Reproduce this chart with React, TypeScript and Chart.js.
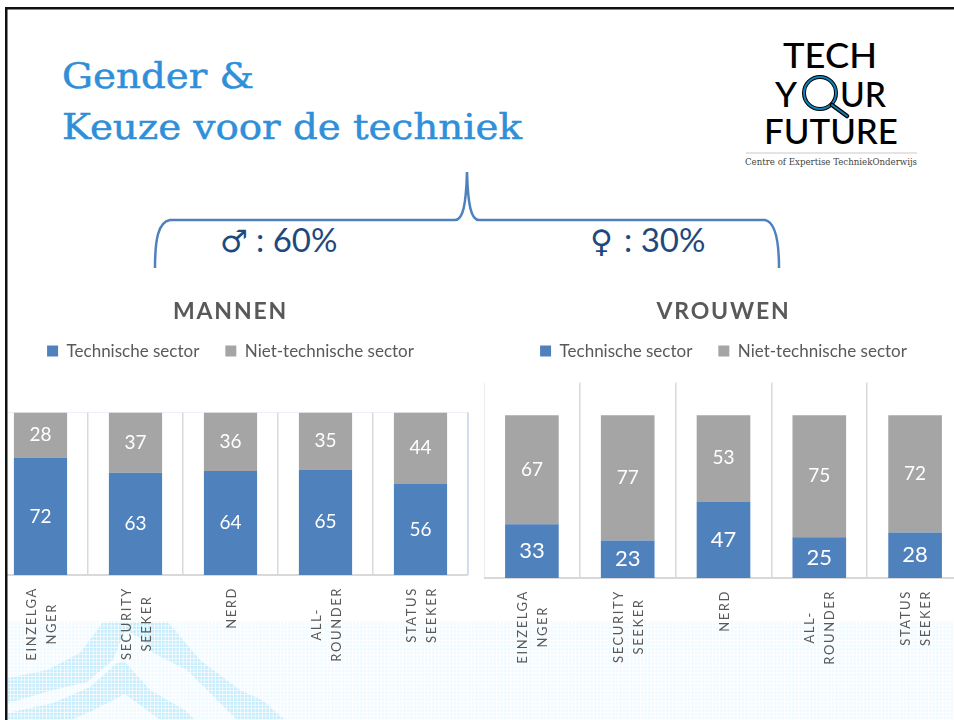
import React, { useEffect, useRef } from "react";
import { Chart, registerables } from "chart.js";

Chart.register(...registerables);

const categories = [
  ["EINZELGA", "NGER"],
  ["SECURITY", "SEEKER"],
  ["NERD"],
  ["ALL-", "ROUNDER"],
  ["STATUS", "SEEKER"],
];
const seriesNames = ["Technische sector", "Niet-technische sector"];
const mannenTech = [72, 63, 64, 65, 56];
const mannenNiet = [28, 37, 36, 35, 44];
const vrouwenTech = [33, 23, 47, 25, 28];
const vrouwenNiet = [67, 77, 53, 75, 72];

const BLUE = "#4F81BD";
const GREY = "#A5A5A5";
const TEXT = "#595959";
const LINE = "#D9D9D9";
const FONT = "Lato, 'Open Sans', sans-serif";

const overlayPlugin = {
  id: "overlay",
  beforeDraw(chart: any) {
    const block = chart.titleBlock;
    if (block && !block.__spaced) {
      const draw = block.draw;
      block.draw = function () {
        chart.ctx.save();
        chart.ctx.letterSpacing = "1.8px";
        draw.call(this);
        chart.ctx.restore();
      };
      block.__spaced = true;
    }
  },
  afterDatasetsDraw(chart: any, _a: any, opts: any) {
    const { ctx } = chart;
    ctx.save();
    ctx.fillStyle = "#FFFFFF";
    ctx.textAlign = "center";
    ctx.textBaseline = "middle";
    chart.data.datasets.forEach((ds: any, d: number) => {
      ctx.font = `${opts.valueSizes[d]}px ${FONT}`;
      chart.getDatasetMeta(d).data.forEach((bar: any, i: number) => {
        const p = bar.getCenterPoint();
        ctx.fillText(String(ds.data[i]), p.x, p.y);
      });
    });
    ctx.restore();
  },
  afterDraw(chart: any, _a: any, opts: any) {
    const { ctx } = chart;
    const scale = chart.scales.x;
    ctx.save();
    ctx.fillStyle = TEXT;
    ctx.font = `13px ${FONT}`;
    ctx.letterSpacing = "1.6px";
    ctx.textAlign = "center";
    ctx.textBaseline = "middle";
    chart.data.labels.forEach((lines: string[], i: number) => {
      const widest = Math.max(...lines.map((l) => ctx.measureText(l).width));
      ctx.save();
      ctx.translate(scale.getPixelForTick(i) + 1, chart.chartArea.bottom + opts.labelGap);
      ctx.rotate(-Math.PI / 2);
      lines.forEach((l, n) => {
        ctx.fillText(l, -widest / 2, (n - (lines.length - 1) / 2) * 20);
      });
      ctx.restore();
    });
    ctx.restore();
  },
};

type PanelProps = {
  title: string;
  tech: number[];
  niet: number[];
  yMax: number;
  left: number;
  top: number;
  width: number;
  height: number;
  plotGap: number;
  bottomPad: number;
  valueSizes: number[];
  labelGap: number;
};

function Panel(p: PanelProps) {
  const ref = useRef<HTMLCanvasElement>(null);
  useEffect(() => {
    const chart = new Chart(ref.current as HTMLCanvasElement, {
      type: "bar",
      data: {
        labels: categories as any,
        datasets: [
          { label: seriesNames[0], data: p.tech, backgroundColor: BLUE, xAxisID: "x", yAxisID: "y" },
          { label: seriesNames[1], data: p.niet, backgroundColor: GREY, xAxisID: "x", yAxisID: "y" },
        ],
      },
      options: {
        animation: false,
        responsive: false,
        maintainAspectRatio: false,
        layout: { padding: { top: 0, left: 0, right: 0, bottom: p.bottomPad } },
        datasets: { bar: { categoryPercentage: 1, barPercentage: 0.56 } },
        scales: {
          x: {
            stacked: true,
            grid: { color: LINE, lineWidth: 1.5, drawTicks: false },
            border: { color: LINE, width: 2 },
            ticks: { display: false },
            afterFit: (s: any) => {
              s.height = 0;
            },
          },
          gap: {
            type: "category",
            position: "top",
            labels: [""],
            grid: { display: false },
            border: { display: false },
            ticks: { display: false },
            afterFit: (s: any) => {
              s.height = p.plotGap;
            },
          },
          y: { stacked: true, display: false, min: 0, max: p.yMax },
        },
        plugins: {
          title: {
            display: true,
            text: p.title,
            color: TEXT,
            font: { family: FONT, size: 23, weight: "bold" },
            padding: { top: 7.5, bottom: -8.5 },
          },
          legend: {
            display: true,
            position: "top",
            labels: {
              color: TEXT,
              boxWidth: 11,
              boxHeight: 11,
              padding: 26,
              font: { family: FONT, size: 17 },
            },
          },
          tooltip: { enabled: false },
          overlay: { valueSizes: p.valueSizes, labelGap: p.labelGap },
        },
      } as any,
      plugins: [overlayPlugin as any],
    });
    return () => chart.destroy();
  }, []);
  return (
    <canvas
      ref={ref}
      width={p.width}
      height={p.height}
      style={{ position: "absolute", left: p.left, top: p.top, width: p.width, height: p.height }}
    />
  );
}

function Backdrop() {
  return (
    <svg width={954} height={720} style={{ position: "absolute", left: 0, top: 0 }}>
      <defs>
        <pattern id="pale" width={3.6} height={3.6} patternUnits="userSpaceOnUse">
          <rect width={2.7} height={2.7} fill="#F1FAFE" />
        </pattern>
        <pattern id="dots" width={3.6} height={3.6} patternUnits="userSpaceOnUse">
          <rect width={2.8} height={2.8} fill="#C6EDFC" />
        </pattern>
      </defs>
      <rect x={8} y={621} width={946} height={99} fill="url(#pale)" />
      <path
        d="M8,678 L47,670 L80,653 L103,622 L168,622 L200,660 L240,690 L262,700 L285,720 L237,720 L187,670 L153,653 L143,640 L125,630 L113,660 L87,682 L53,690 L8,703 Z"
        fill="url(#dots)"
      />
      <path d="M8,713 L53,703 L90,687 L117,663 L125,662 L150,690 L185,710 L195,720 L160,720 L125,694 L90,712 L70,720 L8,720 Z" fill="url(#dots)" />
      <path d="M8,412.5 H468 V575" fill="none" stroke="#EDF1F7" strokeWidth={1} />
      <path d="M468,412.5 V575" fill="none" stroke="#C9D7EB" strokeWidth={1.5} />
    </svg>
  );
}

function Frame() {
  return (
    <svg width={954} height={720} style={{ position: "absolute", left: 0, top: 0 }}>
      <rect x={0} y={0} width={5} height={720} fill="#fff" />
      <rect x={5} y={7} width={949} height={2.5} fill="#111" />
      <rect x={5} y={7} width={2.5} height={713} fill="#111" />
    </svg>
  );
}

function Header() {
  const blue = "#2F8FD8";
  const navy = "#1F497D";
  const slab = "'DejaVu Serif', serif";
  const logo = "Lato, 'Open Sans', sans-serif";
  return (
    <svg width={954} height={720} style={{ position: "absolute", left: 0, top: 0 }}>
      <text x={62} y={88} fill={blue} stroke={blue} strokeWidth={0.5} fontFamily={slab} fontSize={36} textLength={192} lengthAdjust="spacingAndGlyphs">
        Gender &amp;
      </text>
      <text x={62} y={139} fill={blue} stroke={blue} strokeWidth={0.5} fontFamily={slab} fontSize={36} textLength={460} lengthAdjust="spacingAndGlyphs">
        Keuze voor de techniek
      </text>

      <path
        d="M155,268 C155,240 158,222 170,220 L455,220 C463,220 466,205 467,172 C468,205 471,220 479,220 L765,220 C775,222 779,240 779,268"
        fill="none"
        stroke={BLUE}
        strokeWidth={2.5}
      />
      <text x={220} y={252} fill={navy} fontFamily="'DejaVu Sans', sans-serif" fontSize={31}>
        ♂
      </text>
      <text x={256} y={252} fill={navy} fontFamily={FONT} fontSize={33}>
        : 60%
      </text>
      <text x={590} y={252} fill={navy} fontFamily="'DejaVu Sans', sans-serif" fontSize={31}>
        ♀
      </text>
      <text x={624} y={252} fill={navy} fontFamily={FONT} fontSize={33}>
        : 30%
      </text>

      <text x={783} y={68} fill="#000" fontFamily={logo} fontWeight={500} fontSize={35} textLength={94} lengthAdjust="spacingAndGlyphs">
        TECH
      </text>
      <text x={775} y={107} fill="#000" fontFamily={logo} fontWeight={500} fontSize={35}>
        Y
      </text>
      <text x={840} y={107} fill="#000" fontFamily={logo} fontWeight={500} fontSize={35} textLength={46} lengthAdjust="spacingAndGlyphs">
        UR
      </text>
      <text x={764} y={144} fill="#000" fontFamily={logo} fontWeight={500} fontSize={35} textLength={134} lengthAdjust="spacingAndGlyphs">
        FUTURE
      </text>
      <circle cx={820} cy={93} r={16} fill="#fff" stroke="#000" strokeWidth={4} />
      <circle cx={820} cy={93} r={16} fill="none" stroke="#0F80B8" strokeWidth={2} />
      <line x1={832} y1={105} x2={847} y2={116} stroke="#000" strokeWidth={4.5} strokeLinecap="round" />
      <line x1={832} y1={105} x2={847} y2={116} stroke="#0F80B8" strokeWidth={1.8} strokeLinecap="round" />
      <line x1={746} y1={153} x2={917} y2={153} stroke="#C9C9C9" strokeWidth={1} />
      <text x={745} y={165} fill="#444" fontFamily="'DejaVu Serif', serif" fontSize={9} textLength={172} lengthAdjust="spacingAndGlyphs">
        Centre of Expertise TechniekOnderwijs
      </text>
    </svg>
  );
}

export default function App() {
  return (
    <div style={{ position: "fixed", left: 0, top: 0, width: 954, height: 720, overflow: "hidden", background: "#fff" }}>
      <Backdrop />
      <Header />
      <Panel
        title="MANNEN"
        tech={mannenTech}
        niet={mannenNiet}
        yMax={100}
        left={-7}
        top={290}
        width={475}
        height={385}
        plotGap={43}
        bottomPad={100}
        valueSizes={[19, 19]}
        labelGap={12}
      />
      <Panel
        title="VROUWEN"
        tech={vrouwenTech}
        niet={vrouwenNiet}
        yMax={120}
        left={484}
        top={290}
        width={479}
        height={385}
        plotGap={13}
        bottomPad={97}
        valueSizes={[22, 19]}
        labelGap={12}
      />
      <Frame />
    </div>
  );
}
